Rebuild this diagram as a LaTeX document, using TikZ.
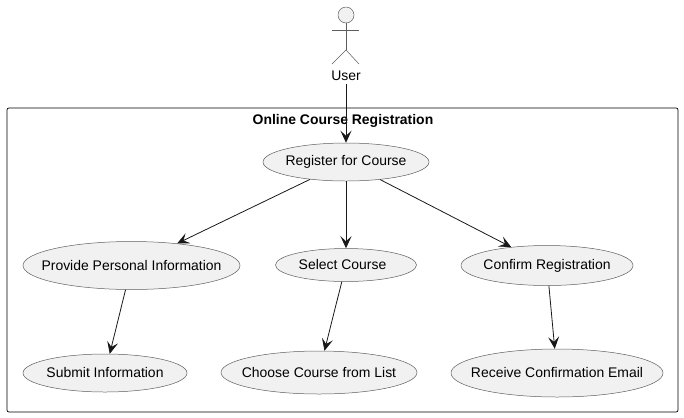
\documentclass[tikz,border=0pt]{standalone}
\usepackage{fontspec}
\setmainfont{Liberation Sans}
\usetikzlibrary{arrows, arrows.meta}
\usetikzlibrary{shapes.geometric}
\definecolor{casefill}{HTML}{F1F1F1}
\definecolor{caseline}{HTML}{181818}
\newcommand{\casename}[1]{\makebox[0pt]{\raisebox{-1bp}{#1}}}
\tikzset{
  usecase/.style={ellipse, draw=caseline!70, line width=0.5pt, fill=casefill, inner sep=0pt, font=\fontsize{14}{16}\selectfont},
  link/.style={draw=caseline, line width=0.8pt, -{Stealth[length=12bp, width=11bp, inset=5bp]}},
  limb/.style={draw=caseline!70, line width=0.5pt},
}

\begin{document}
\begin{tikzpicture}[x=1bp, y=-1bp]
    \useasboundingbox (0,0) rectangle (684,417);

    \node[draw=black, line width=0.7pt, rounded corners=2bp, minimum width=671bp, minimum height=304bp, inner sep=0pt] (system) at (342.5,260) {};
    \node[font=\fontsize{14}{16}\selectfont\bfseries, inner sep=0pt] (title) at (343,120.5) {Online Course Registration};

    \node[circle, draw=caseline!70, line width=0.5pt, fill=casefill, inner sep=0pt, minimum size=16bp] (head) at (346,15) {};
    \coordinate (neck) at (346,23);
    \coordinate (hip) at (346,50);
    \coordinate (armL) at (332,30);
    \coordinate (armR) at (359,30);
    \coordinate (legL) at (332,64);
    \coordinate (legR) at (359,64);
    \draw[limb] (neck) -- (hip);
    \draw[limb] (armL) -- (armR);
    \draw[limb] (legL) -- (hip) -- (legR);
    \node[font=\fontsize{14}{16}\selectfont, inner sep=0pt, minimum height=16bp] (user) at (346,76) {User};

    \node[usecase, minimum width=166bp, minimum height=38bp] (register) at (346,162) {\casename{Register for Course}};
    \node[usecase, minimum width=217bp, minimum height=48bp] (personal) at (131.5,265.5) {\casename{Provide Personal Information}};
    \node[usecase, minimum width=141bp, minimum height=33bp] (select) at (346,265) {\casename{\hspace*{-7bp}Select Course}};
    \node[usecase, minimum width=172bp, minimum height=40bp] (confirm) at (547,265.5) {\casename{Confirm Registration}};
    \node[usecase, minimum width=164bp, minimum height=38bp] (submit) at (105,373) {\casename{Submit Information}};
    \node[usecase, minimum width=196bp, minimum height=43bp] (choose) at (319,372.5) {\casename{Choose Course from List}};
    \node[usecase, minimum width=212bp, minimum height=48bp] (receive) at (557,373) {\casename{Receive Confirmation Email}};

    \draw[link] (user) -- (register);
    \draw[link] (register) -- (personal);
    \draw[link] (register) -- (select);
    \draw[link] (register) -- (confirm);
    \draw[link] (personal) -- (submit);
    \draw[link] (select) -- (choose);
    \draw[link] (confirm) -- (receive);
  \end{tikzpicture}
\end{document}
